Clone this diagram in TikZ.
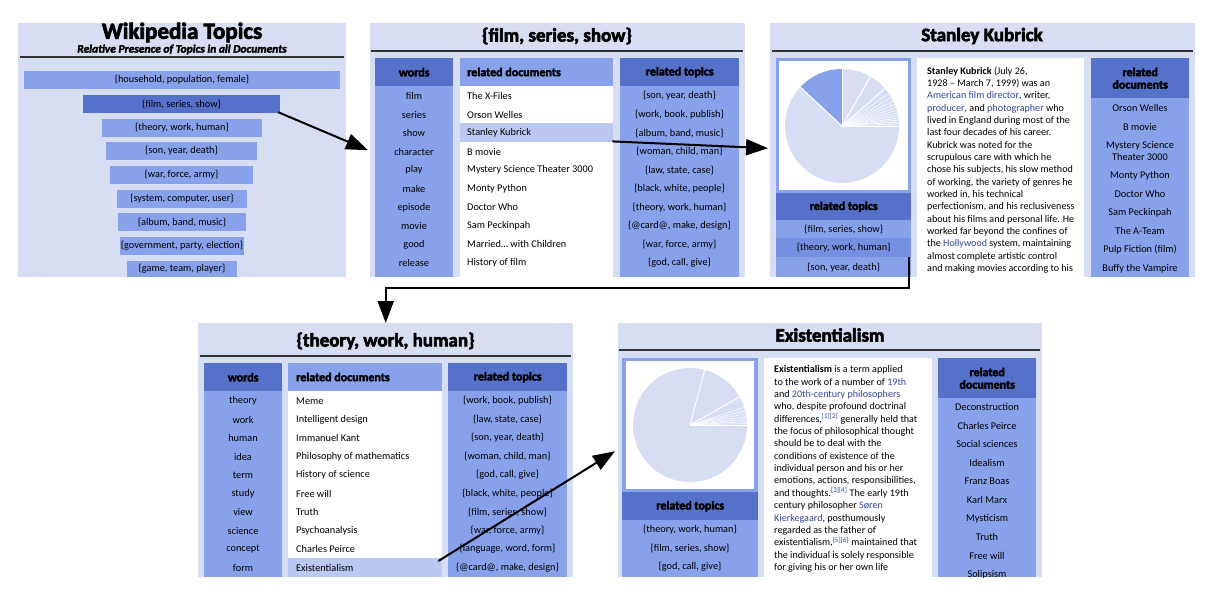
\documentclass[tikz,border=0pt]{standalone}
\usepackage{fontspec}
\setmainfont{Carlito}
\newfontfamily\hvy{Carlito}[BoldFeatures={FakeBold=3},BoldItalicFeatures={FakeBold=2.5}]
\usetikzlibrary{arrows.meta}
\definecolor{pbg}{HTML}{D7DDF3}
\definecolor{med}{HTML}{87A2EB}
\definecolor{dark}{HTML}{5571C9}
\definecolor{hil}{HTML}{BBC8F2}
\definecolor{mid}{HTML}{7590E0}
\definecolor{pie}{HTML}{D7DEF4}
\definecolor{link}{HTML}{34449A}
\definecolor{rulec}{HTML}{333333}
\newcommand\lnk[1]{\textcolor{link}{#1}}
\tikzset{
  panel/.style={fill=pbg, draw=none, inner sep=0, anchor=north west},
  boxnw/.style={inner sep=0, anchor=north west},
  rowt/.style={inner sep=0, font=\fontsize{10.3}{11}\selectfont},
  bar/.style={inner sep=0, minimum height=18, font=\fontsize{10.3}{11}\selectfont},
  hdr/.style={inner sep=0, font=\hvy\bfseries\fontsize{12}{12.5}\selectfont},
  ttl/.style={inner sep=0, font=\hvy\bfseries\fontsize{19}{20}\selectfont},
  body/.style={inner sep=0, align=left, anchor=north west, font=\fontsize{10.1}{12.35}\selectfont},
  arr/.style={line width=2pt, -{Triangle[length=22pt,width=16pt]}},
  rulel/.style={line width=1.2pt, draw=rulec},
  pieline/.style={draw=white, line width=1pt},
  pieth/.style={draw=white, line width=0.5pt},
}
\begin{document}
\begin{tikzpicture}[x=1pt,y=-1pt]
\useasboundingbox[fill=white] (0,0) rectangle (1218,597);

% ---------------- Panel 1: Wikipedia Topics
\node[panel, minimum width=328, minimum height=254] (p1) at (18,23) {};
\node[inner sep=0, font=\hvy\bfseries\fontsize{23}{24}\selectfont] (t1) at (182,32.5) {Wikipedia Topics};
\node[inner sep=0, font=\hvy\bfseries\itshape\fontsize{11.5}{12}\selectfont] (s1) at (182,49.5) {Relative Presence of Topics in all Documents};
\draw[rulel] (20,57) -- (344,57);
\node[bar, fill=med, minimum width=316] (b1) at (182,80) {\{household, population, female\}};
\node[bar, fill=dark, minimum width=197] (b2) at (181.5,104) {\{film, series, show\}};
\node[bar, fill=med, minimum width=160] (b3) at (182,128) {\{theory, work, human\}};
\node[bar, fill=med, minimum width=151] (b4) at (181.5,151) {\{son, year, death\}};
\node[bar, fill=med, minimum width=143] (b5) at (181.5,175) {\{war, force, army\}};
\node[bar, fill=med, minimum width=130] (b6) at (182,199) {\{system, computer, user\}};
\node[bar, fill=med, minimum width=128] (b7) at (182,222) {\{album, band, music\}};
\node[bar, fill=med, minimum width=124] (b8) at (182,246) {\{government, party, election\}};
\node[bar, fill=med, minimum width=110, minimum height=16] (b9) at (182,269) {\{game, team, player\}};

% ---------------- Panel 2: {film, series, show}
\node[panel, minimum width=375, minimum height=254] (p2) at (370,23) {};
\node[ttl] (t2) at (557,36) {\{film, series, show\}};
\draw[rulel] (371,51) -- (743,51);
\node[boxnw, fill=dark, minimum width=78, minimum height=28] (w2h) at (375,58) {};
\node[hdr] (w2hl) at (w2h.center) {words};
\fill[med] (375,86) rectangle (453,277);
\foreach \t [count=\i from 0] in {film,series,show,character,play,make,episode,movie,good,release}
  \node[rowt] (w2-\i) at (414,{96+\i*18.55}) {\t};
\node[boxnw, fill=med, minimum width=153, minimum height=28] (d2h) at (460,58) {};
\node[hdr, anchor=west] (d2hl) at (467,72) {related documents};
\fill[white] (460,86) rectangle (613,277);
\node[boxnw, fill=hil, minimum width=153, minimum height=19] (d2k) at (460,123) {};
\foreach \t [count=\i from 0] in {The X-Files,Orson Welles,Stanley Kubrick,B movie,Mystery Science Theater 3000,Monty Python,Doctor Who,Sam Peckinpah,Married\dots\ with Children,History of film}
  \node[rowt, anchor=west] (d2-\i) at (467,{96+\i*18.55}) {\t};
\node[boxnw, fill=dark, minimum width=119, minimum height=28] (r2h) at (620,58) {};
\node[hdr] (r2hl) at (r2h.center) {related topics};
\fill[med] (620,86) rectangle (739,277);
\foreach \t [count=\i from 0] in {{\{son, year, death\}},{\{work, book, publish\}},{\{album, band, music\}},{\{woman, child, man\}},{\{law, state, case\}},{\{black, white, people\}},{\{theory, work, human\}},{\{@card@, make, design\}},{\{war, force, army\}},{\{god, call, give\}}}
  \node[rowt] (r2-\i) at (679.5,{96+\i*18.55}) {\t};

% ---------------- Panel 3: Stanley Kubrick
\node[panel, minimum width=425, minimum height=254] (p3) at (770,23) {};
\node[ttl] (t3) at (982,36) {Stanley Kubrick};
\draw[rulel] (772,51) -- (1193,51);
\node[boxnw, fill=med, minimum width=135, minimum height=135] (kpbox) at (776,58) {};
\fill[white] (779,61) rectangle (908,190);
\coordinate (kpc) at (842,126);
\fill[pie] (kpc) circle[radius=57pt];
\fill[med] (kpc) -- ++(90:57pt) arc[start angle=90, end angle=137, radius=57pt] -- cycle;
\foreach \a in {90,137,60,41} \draw[pieline] (kpc) -- ++(\a:57pt);
\foreach \a in {35,30,26,22.5,19,16,13,10.5,8,6,4,2,0} \draw[pieth] (kpc) -- ++(\a:57pt);
\node[boxnw, fill=dark, minimum width=135, minimum height=27] (kth) at (776,193) {};
\node[hdr] (kthl) at (kth.center) {related topics};
\node[boxnw, fill=med, minimum width=135, minimum height=18] (kt1) at (776,220) {};
\node[boxnw, fill=mid, minimum width=135, minimum height=19] (kt2) at (776,238) {};
\node[boxnw, fill=med, minimum width=135, minimum height=20] (kt3) at (776,257) {};
\node[rowt] (kt1l) at (kt1.center) {\{film, series, show\}};
\node[rowt] (kt2l) at (kt2.center) {\{theory, work, human\}};
\node[rowt] (kt3l) at (kt3.center) {\{son, year, death\}};
\fill[white] (917,58) rectangle (1084,277);
\node[body] (ktext) at (927,66.5) {\textbf{Stanley Kubrick} (July 26,\\
1928 -- March 7, 1999) was an\\
\lnk{American film director}, writer,\\
\lnk{producer}, and \lnk{photographer} who\\
lived in England during most of the\\
last four decades of his career.\\
Kubrick was noted for the\\
scrupulous care with which he\\
chose his subjects, his slow method\\
of working, the variety of genres he\\
worked in, his technical\\
perfectionism, and his reclusiveness\\
about his films and personal life. He\\
worked far beyond the confines of\\
the \lnk{Hollywood} system, maintaining\\
almost complete artistic control\\
and making movies according to his};
\node[boxnw, fill=dark, minimum width=98, minimum height=40] (kdh) at (1091,58) {};
\node[hdr, align=center] (kdhl) at (kdh.center) {related\\documents};
\fill[med] (1091,98) rectangle (1189,277);
\node[rowt] (kd1) at (1140,108) {Orson Welles};
\node[rowt] (kd2) at (1140,127) {B movie};
\node[rowt, align=center, font=\fontsize{10.3}{12}\selectfont] (kd3) at (1140,151) {Mystery Science\\Theater 3000};
\node[rowt] (kd4) at (1140,176) {Monty Python};
\node[rowt] (kd5) at (1140,194) {Doctor Who};
\node[rowt] (kd6) at (1140,213) {Sam Peckinpah};
\node[rowt] (kd7) at (1140,231) {The A-Team};
\node[rowt] (kd8) at (1140,250) {Pulp Fiction (film)};
\node[rowt] (kd9) at (1140,269) {Buffy the Vampire};

% ---------------- Panel 4: {theory, work, human}
\node[panel, minimum width=375, minimum height=254] (p4) at (198,323) {};
\node[ttl] (t4) at (385.5,341) {\{theory, work, human\}};
\draw[rulel] (200,356) -- (571,356);
\node[boxnw, fill=dark, minimum width=78, minimum height=28] (w4h) at (204,363) {};
\node[hdr] (w4hl) at (w4h.center) {words};
\fill[med] (204,391) rectangle (282,577);
\foreach \t [count=\i from 0] in {theory,work,human,idea,term,study,view,science,concept,form}
  \node[rowt] (w4-\i) at (243,{401+\i*18.5}) {\t};
\node[boxnw, fill=med, minimum width=154, minimum height=28] (d4h) at (288,363) {};
\node[hdr, anchor=west] (d4hl) at (296,377) {related documents};
\fill[white] (288,391) rectangle (442,577);
\node[boxnw, fill=hil, minimum width=154, minimum height=19] (d4k) at (288,558) {};
\foreach \t [count=\i from 0] in {Meme,Intelligent design,Immanuel Kant,Philosophy of mathematics,History of science,Free will,Truth,Psychoanalysis,Charles Peirce,Existentialism}
  \node[rowt, anchor=west] (d4-\i) at (296,{401+\i*18.5}) {\t};
\node[boxnw, fill=dark, minimum width=119, minimum height=28] (r4h) at (448,363) {};
\node[hdr] (r4hl) at (r4h.center) {related topics};
\fill[med] (448,391) rectangle (567,577);
\foreach \t [count=\i from 0] in {{\{work, book, publish\}},{\{law, state, case\}},{\{son, year, death\}},{\{woman, child, man\}},{\{god, call, give\}},{\{black, white, people\}},{\{film, series, show\}},{\{war, force, army\}},{\{language, word, form\}},{\{@card@, make, design\}}}
  \node[rowt] (r4-\i) at (507.5,{401+\i*18.5}) {\t};

% ---------------- Panel 5: Existentialism
\node[panel, minimum width=424, minimum height=254] (p5) at (618,323) {};
\node[ttl] (t5) at (830,335) {Existentialism};
\draw[rulel] (619,350) -- (1040,350);
\node[boxnw, fill=med, minimum width=136, minimum height=134] (epbox) at (622,358) {};
\fill[white] (626,361) rectangle (754,489);
\coordinate (epc) at (690,425);
\fill[pie] (epc) circle[radius=57pt];
\foreach \a in {75,29.5} \draw[pieline] (epc) -- ++(\a:57pt);
\foreach \a in {18,14.5,11.5,8.5,6,3.5,1.5,0} \draw[pieth] (epc) -- ++(\a:57pt);
\node[boxnw, fill=dark, minimum width=136, minimum height=28] (eth) at (622,492) {};
\node[hdr] (ethl) at (eth.center) {related topics};
\fill[med] (622,520) rectangle (758,577);
\node[rowt] (et1) at (690,530) {\{theory, work, human\}};
\node[rowt] (et2) at (690,548) {\{film, series, show\}};
\node[rowt] (et3) at (690,567) {\{god, call, give\}};
\fill[white] (764,358) rectangle (932,577);
\node[body] (etext) at (774,365.5) {\textbf{Existentialism} is a term applied\\
to the work of a number of \lnk{19th}\\
and \lnk{20th-century philosophers}\\
who, despite profound doctrinal\\
differences,\textsuperscript{\lnk{[1][2]}} generally held that\\
the focus of philosophical thought\\
should be to deal with the\\
conditions of existence of the\\
individual person and his or her\\
emotions, actions, responsibilities,\\
and thoughts.\textsuperscript{\lnk{[3][4]}} The early 19th\\
century philosopher \lnk{Søren}\\
\lnk{Kierkegaard}, posthumously\\
regarded as the father of\\
existentialism,\textsuperscript{\lnk{[5][6]}} maintained that\\
the individual is solely responsible\\
for giving his or her own life};
\node[boxnw, fill=dark, minimum width=98, minimum height=40] (edh) at (938,358) {};
\node[hdr, align=center] (edhl) at (edh.center) {related\\documents};
\fill[med] (938,398) rectangle (1036,577);
\begin{scope}
\clip (938,398) rectangle (1036,577);
\foreach \t [count=\i from 0] in {Deconstruction,Charles Peirce,Social sciences,Idealism,Franz Boas,Karl Marx,Mysticism,Truth,Free will,Solipsism}
  \node[rowt] (ed-\i) at (987,{407+\i*18.6}) {\t};
\end{scope}

% ---------------- Arrows
\draw[arr] ([xshift=-2pt,yshift=1pt]b2.south east) -- ([xshift=-2pt]p2.west);
\draw[arr] ([xshift=-1pt,yshift=1pt]d2k.south east) -- ([xshift=-2pt,yshift=2pt]p3.west);
\draw[arr] ([xshift=-2pt]kt2.south east) -- ++(0,31) -| (p4.north);
\draw[arr] ([xshift=-4pt,yshift=-3pt]d4k.north east) -- ([xshift=-3pt,yshift=-1pt]p5.west);
\end{tikzpicture}
\end{document}
